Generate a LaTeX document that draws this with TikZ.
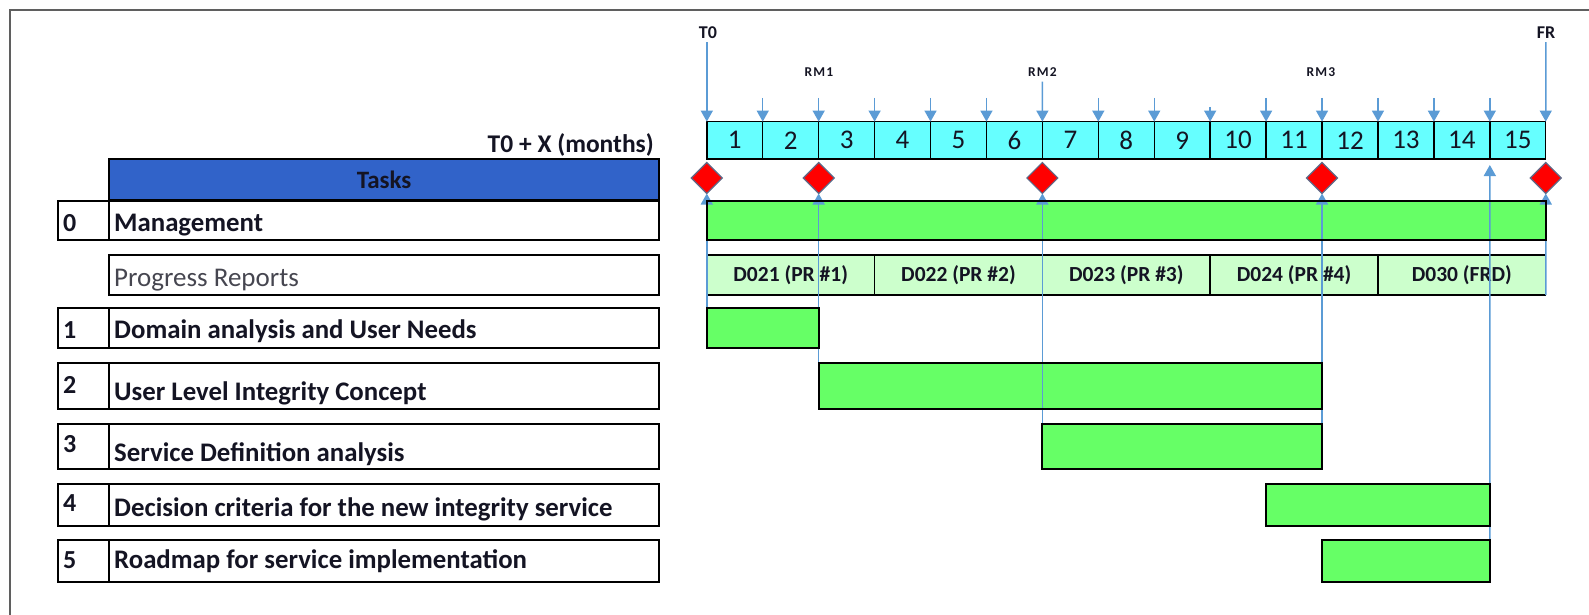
\documentclass[tikz,border=0pt]{standalone}
\usepackage{fontspec}
\setmainfont{Carlito}
\usetikzlibrary{arrows.meta,shapes.geometric}
\definecolor{arrblue}{RGB}{91,155,213}
\definecolor{cyanc}{RGB}{102,255,255}
\definecolor{barg}{RGB}{102,255,102}
\definecolor{prg}{RGB}{204,255,204}
\definecolor{hdrblue}{RGB}{49,99,201}
\definecolor{txt}{RGB}{20,20,35}
\definecolor{dmb}{RGB}{95,105,135}
\definecolor{framec}{RGB}{95,95,95}
\begin{document}
\begin{tikzpicture}[x=1pt,y=-1pt,
  month/.style={draw=black,line width=1.4pt,fill=cyanc,minimum width=55.93pt,minimum height=37.4pt,
    inner sep=0pt,outer sep=0pt,anchor=north west,font=\fontsize{27}{29}\selectfont,text=txt},
  bar/.style={fill=barg,draw=black,line width=2pt,inner sep=0pt,outer sep=0pt,anchor=north west},
  barline/.style={draw=black,line width=2pt},
  prcell/.style={fill=prg,draw=black,line width=1.4pt,inner sep=0pt,outer sep=0pt,anchor=north west,
    minimum width=167.79pt,minimum height=40pt,font=\bfseries\fontsize{21.5}{23}\selectfont,text=txt},
  rowbox/.style={draw=black,line width=2pt,inner sep=0pt,outer sep=0pt,anchor=north west},
  numbox/.style={rowbox,minimum width=51.6pt},
  taskbox/.style={rowbox,minimum width=549.3pt},
  numtxt/.style={anchor=base west,inner sep=0pt,font=\bfseries\fontsize{26}{28}\selectfont,text=txt},
  tasktxt/.style={anchor=base west,inner sep=0pt,font=\bfseries\fontsize{26.8}{28}\selectfont,text=txt},
  ms/.style={diamond,aspect=1,fill=red,draw=dmb,line width=1.2pt,minimum size=31pt,inner sep=0pt,outer sep=0pt},
  toplbl/.style={inner sep=0pt,font=\bfseries\fontsize{18}{19}\selectfont,text=txt},
  rmlbl/.style={inner sep=0pt,font=\bfseries\fontsize{13.5}{14}\selectfont,text=txt},
  dnar/.style={draw=arrblue,line width=1.5pt,-{Triangle[width=12pt,length=11pt]}},
  upar/.style={draw=arrblue,line width=1.5pt,-{Triangle[width=12pt,length=11pt]}},
]
\useasboundingbox (0,0) rectangle (1589,615);
% outer frame
\draw[framec,line width=2.2pt] (10,615) -- (10,10) -- (1589,10);

% left table
\node[anchor=base east,inner sep=0pt,font=\bfseries\fontsize{25.5}{27}\selectfont,text=txt] (tx) at (654,153) {T0 + X (months)};
\node[taskbox,fill=hdrblue,minimum height=41pt,font=\bfseries\fontsize{25}{27}\selectfont,text=txt] (hdr) at (109.4,159) {Tasks};

\node[numbox,minimum height=39.4pt] (n0) at (57.8,200.6) {};
\node[taskbox,minimum height=39.4pt] (r0) at (109.4,200.6) {};
\node[numtxt] (n0t) at (63,231) {0};
\node[tasktxt] (r0t) at (114,231) {Management};

\node[taskbox,minimum height=40pt] (rp) at (109.4,255) {};
\node[anchor=base west,inner sep=0pt,font=\fontsize{27}{28}\selectfont,text={rgb,255:red,70;green,70;blue,80}] (rpt) at (114,286) {Progress Reports};

\node[numbox,minimum height=40pt] (n1) at (57.8,308) {};
\node[taskbox,minimum height=40pt] (r1) at (109.4,308) {};
\node[numtxt] (n1t) at (63,338) {1};
\node[tasktxt] (r1t) at (114,338) {Domain analysis and User Needs};

\node[numbox,minimum height=46pt] (n2) at (57.8,363) {};
\node[taskbox,minimum height=46pt] (r2) at (109.4,363) {};
\node[numtxt] (n2t) at (63,393) {2};
\node[tasktxt] (r2t) at (114,400) {User Level Integrity Concept};

\node[numbox,minimum height=45pt] (n3) at (57.8,424) {};
\node[taskbox,minimum height=45pt] (r3) at (109.4,424) {};
\node[numtxt] (n3t) at (63,452) {3};
\node[tasktxt] (r3t) at (114,461) {Service Definition analysis};

\node[numbox,minimum height=42.5pt] (n4) at (57.8,483.5) {};
\node[taskbox,minimum height=42.5pt] (r4) at (109.4,483.5) {};
\node[numtxt] (n4t) at (63,511) {4};
\node[tasktxt] (r4t) at (114,516) {Decision criteria for the new integrity service};

\node[numbox,minimum height=42.5pt] (n5) at (57.8,539.5) {};
\node[taskbox,minimum height=42.5pt] (r5) at (109.4,539.5) {};
\node[numtxt] (n5t) at (63,568) {5};
\node[tasktxt] (r5t) at (114,568) {Roadmap for service implementation};

% months
\foreach \i in {1,...,15}
  \node[month] (m\i) at ({706.8+55.93*(\i-1)},121.6) {\i};

% bars
\node[bar,minimum width=838.95pt,minimum height=39.4pt] (bmg) at (706.8,200.6) {};
\node[bar,minimum width=111.86pt,minimum height=40pt] (bdom) at (706.8,308) {};
\node[bar,minimum width=503.37pt,minimum height=46pt] (busr) at (818.66,363) {};
\node[bar,minimum width=279.65pt,minimum height=45pt] (bsvc) at (1042.38,424) {};
\node[bar,minimum width=223.72pt,minimum height=42.5pt] (bdec) at (1266.1,483.5) {};
\node[bar,minimum width=167.79pt,minimum height=42.5pt] (brm) at (1322.03,539.5) {};

% progress report cells
\node[prcell] (p1) at (706.8,255) {D021 (PR \#1)};
\node[prcell] (p2) at (874.59,255) {D022 (PR \#2)};
\node[prcell] (p3) at (1042.38,255) {D023 (PR \#3)};
\node[prcell] (p4) at (1210.17,255) {D024 (PR \#4)};
\node[prcell] (p5) at (1377.96,255) {D030 (FRD)};

% milestones
\node[ms] (d0) at (706.8,178) {};
\node[ms] (d2) at (818.66,178) {};
\node[ms] (d6) at (1042.38,178) {};
\node[ms] (d11) at (1322.03,178) {};
\node[ms] (d15) at (1545.75,178) {};
\coordinate (c14) at (1489.82,165);

% upward arrows
\draw[upar] (bdom.south west) -- (d0.south);
\draw[upar] (busr.south west) -- (d2.south);
\draw[upar] (bsvc.south west) -- (d6.south);
\draw[upar] (bsvc.south east) -- (d11.south);
\draw[upar] (brm.south east) -- (c14);
\draw[upar] (p5.south east) -- (d15.south);

% redraw bar borders over the lines
\foreach \n in {bmg,bdom,busr,bsvc,bdec,brm}
  \draw[barline] (\n.north west) rectangle (\n.south east);

% top labels and arrows
\node[toplbl] (t0) at (708,33) {T0};
\node[toplbl] (fr) at (1546,33) {FR};
\node[rmlbl] (rm1) at (819,72) {R\kern1.2pt M\kern1.2pt 1};
\node[rmlbl] (rm2) at (1042.38,72) {R\kern1.2pt M\kern1.2pt 2};
\node[rmlbl] (rm3) at (1321,72) {R\kern1.2pt M\kern1.2pt 3};
\draw[dnar] (t0.south) ++(-1.2,3) coordinate (t0s) (t0s) -- (m1.north west);
\draw[dnar] (fr.south) ++(-0.25,3) coordinate (frs) (frs) -- (m15.north east);
\draw[dnar] (rm2.south) ++(0,5) coordinate (rm2s) (rm2s) -- (m6.north east);
\foreach \i/\s in {1/98,2/98,3/98,4/98,5/98,7/98,8/98,9/107,10/98,11/98,12/98,13/98,14/98}{
  \coordinate (s\i) at ({706.8+55.93*\i},\s);
  \draw[dnar] (s\i) -- (m\i.north east);
}
\end{tikzpicture}
\end{document}
